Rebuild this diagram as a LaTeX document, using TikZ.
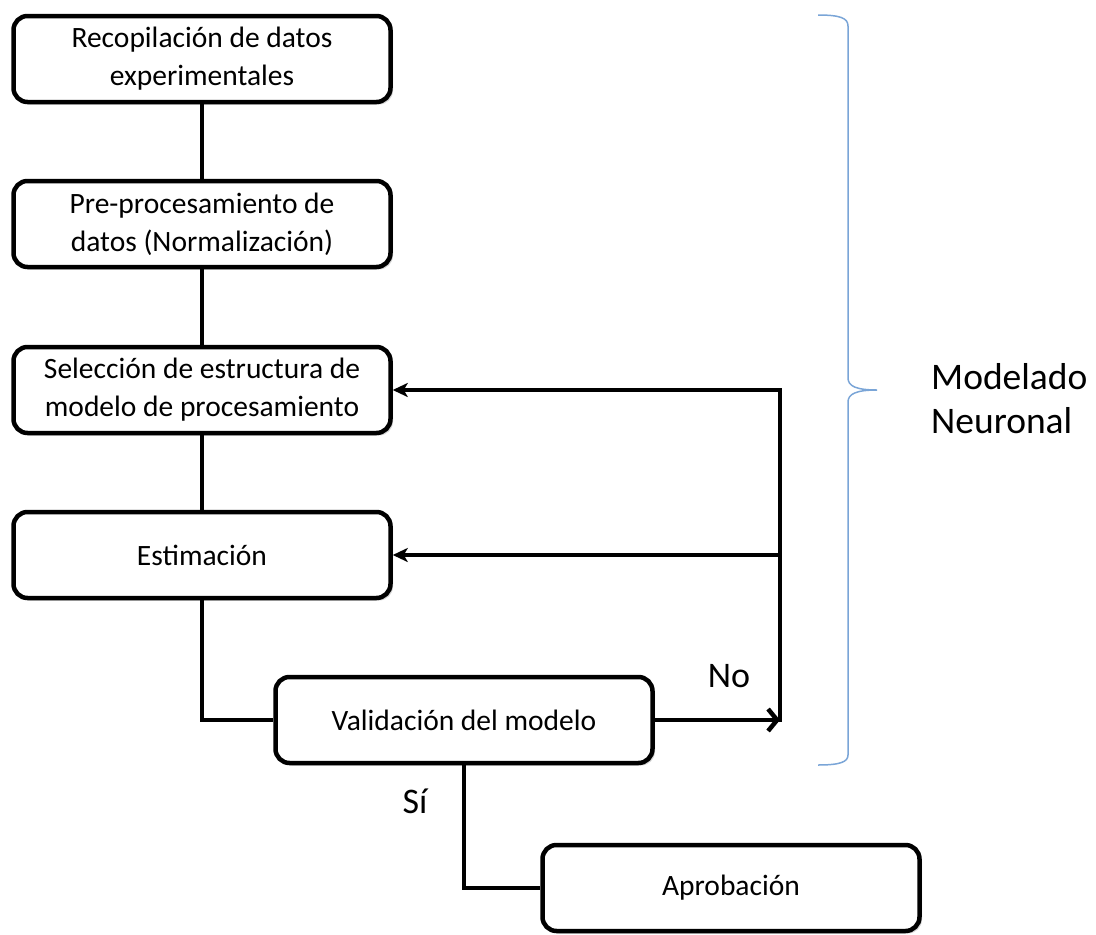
\documentclass[tikz,border=0pt]{standalone}
\usepackage{fontspec}
\setmainfont{Carlito}
\usetikzlibrary{arrows.meta,shadows}
\definecolor{bracecol}{RGB}{122,165,215}
\tikzset{
  box/.style={draw, line width=4.5pt, rounded corners=14pt, fill=white,
    minimum width=377pt, minimum height=86pt, align=center, inner sep=2pt,
    font=\fontsize{29.5}{38}\selectfont,
    drop shadow={shadow xshift=2.5pt, shadow yshift=-2.5pt, fill=black!40, opacity=0.4}},
  conn/.style={line width=4.5pt},
  fb/.style={line width=3.5pt, -{Stealth[length=15pt,width=14pt,inset=4pt]}},
  lbl/.style={font=\fontsize{36}{43}\selectfont, inner sep=0pt},
  brace/.style={draw=bracecol, line width=1.5pt}
}
\begin{document}
\begin{tikzpicture}[x=1pt,y=-1pt]
\useasboundingbox (0,0) rectangle (1096,935);
\node[box] (b1) at (202,59) {Recopilación de datos\\experimentales};
\node[box] (b2) at (202,224) {Pre-procesamiento de\\datos (Normalización)};
\node[box] (b3) at (202,390) {Selección de estructura de\\modelo de procesamiento};
\node[box] (b4) at (202,555) {Estimación};
\node[box] (b5) at (464,720) {Validación del modelo};
\node[box] (b6) at (731,888) {Aprobación};
\coordinate (j) at (780,720);
\coordinate (jt) at (b3.east -| j);
\coordinate (jm) at (b4.east -| j);
\draw[conn] (b1.south) -- (b2.north);
\draw[conn] (b2.south) -- (b3.north);
\draw[conn] (b3.south) -- (b4.north);
\draw[conn] (b4.south) |- (b5.west);
\draw[conn] (b5.south) |- (b6.west);
\draw[conn, -{Straight Barb[length=9pt,width=22pt]}] (b5.east) -- (j);
\draw[conn, line cap=rect] (j) -- (jt);
\draw[fb] (jt) -- (b3.east);
\draw[fb] (jm) -- (b4.east);
\node[lbl, anchor=base] (no) at (729,687) {No};
\node[lbl, anchor=base] (si) at (415,813) {Sí};
\draw[brace] (818,15) .. controls (840,15) and (848,18) .. (848,26)
  -- (848,378) .. controls (848,386) and (856,390) .. (877,390)
  .. controls (856,390) and (848,394) .. (848,402)
  -- (848,755) .. controls (848,762) and (840,765) .. (818,765);
\node[anchor=west, align=left, inner sep=0pt, font=\fontsize{37.5}{44}\selectfont] (mn) at (931,399) {Modelado\\Neuronal};
\end{tikzpicture}
\end{document}
